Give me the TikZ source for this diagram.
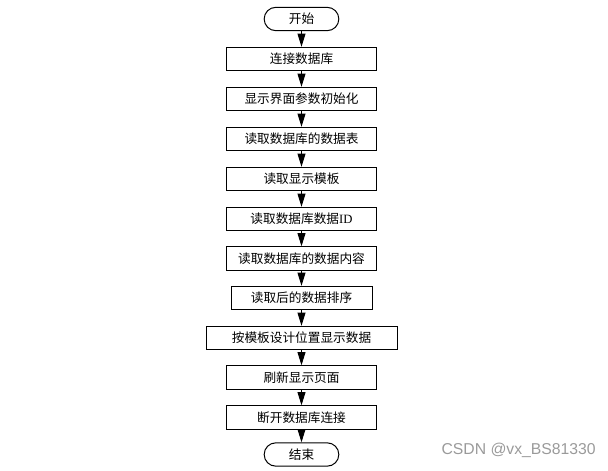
\documentclass[tikz,border=0pt]{standalone}
\usepackage{fontspec}
\setmainfont{Liberation Serif}
\newfontfamily\cjk{Noto Sans CJK SC}
\newfontfamily\wmfont{Liberation Sans}
\usetikzlibrary{arrows.meta}
\definecolor{filigran}{HTML}{9A9A9A}
\begin{document}
\begin{tikzpicture}[x=0.75pt,y=-0.75pt,
  kutu/.style={draw,line width=0.75pt,minimum width=113pt,minimum height=17.5pt,inner sep=0pt,font=\cjk\fontsize{9.5}{11}\selectfont},
  uc/.style={kutu,minimum width=56pt,rounded corners=8.75pt},
  ok/.style={-{Triangle[length=10pt,width=6pt]},line width=0.75pt}]
\useasboundingbox (0,0) rectangle (608,471);
\node[uc] (bas) at (301.5,19) {开始};
\node[kutu] (k1) at (301.5,59) {连接数据库};
\node[kutu] (k2) at (301.5,99) {显示界面参数初始化};
\node[kutu] (k3) at (301.5,139) {读取数据库的数据表};
\node[kutu] (k4) at (301.5,179) {读取显示模板};
\node[kutu] (k5) at (301.5,219) {读取数据库数据{\rmfamily ID}};
\node[kutu] (k6) at (301.5,258.5) {读取数据库的数据内容};
\node[kutu,minimum width=105.75pt] (k7) at (301.5,298) {读取后的数据排序};
\node[kutu,minimum width=143.25pt] (k8) at (301.5,338) {按模板设计位置显示数据};
\node[kutu] (k9) at (301.5,377.5) {刷新显示页面};
\node[kutu] (k10) at (301.5,417.5) {断开数据库连接};
\node[uc] (son) at (301.5,454.5) {结束};
\foreach \a/\b in {bas/k1,k1/k2,k2/k3,k3/k4,k4/k5,k5/k6,k6/k7,k7/k8,k8/k9,k9/k10,k10/son}
  \draw[ok] (\a) -- (\b);
\node[filigran,anchor=east,inner sep=0pt,font=\wmfont\fontsize{11.8}{13}\selectfont] (imza) at (596,450) {CSDN @vx\_BS81330};
\end{tikzpicture}
\end{document}
